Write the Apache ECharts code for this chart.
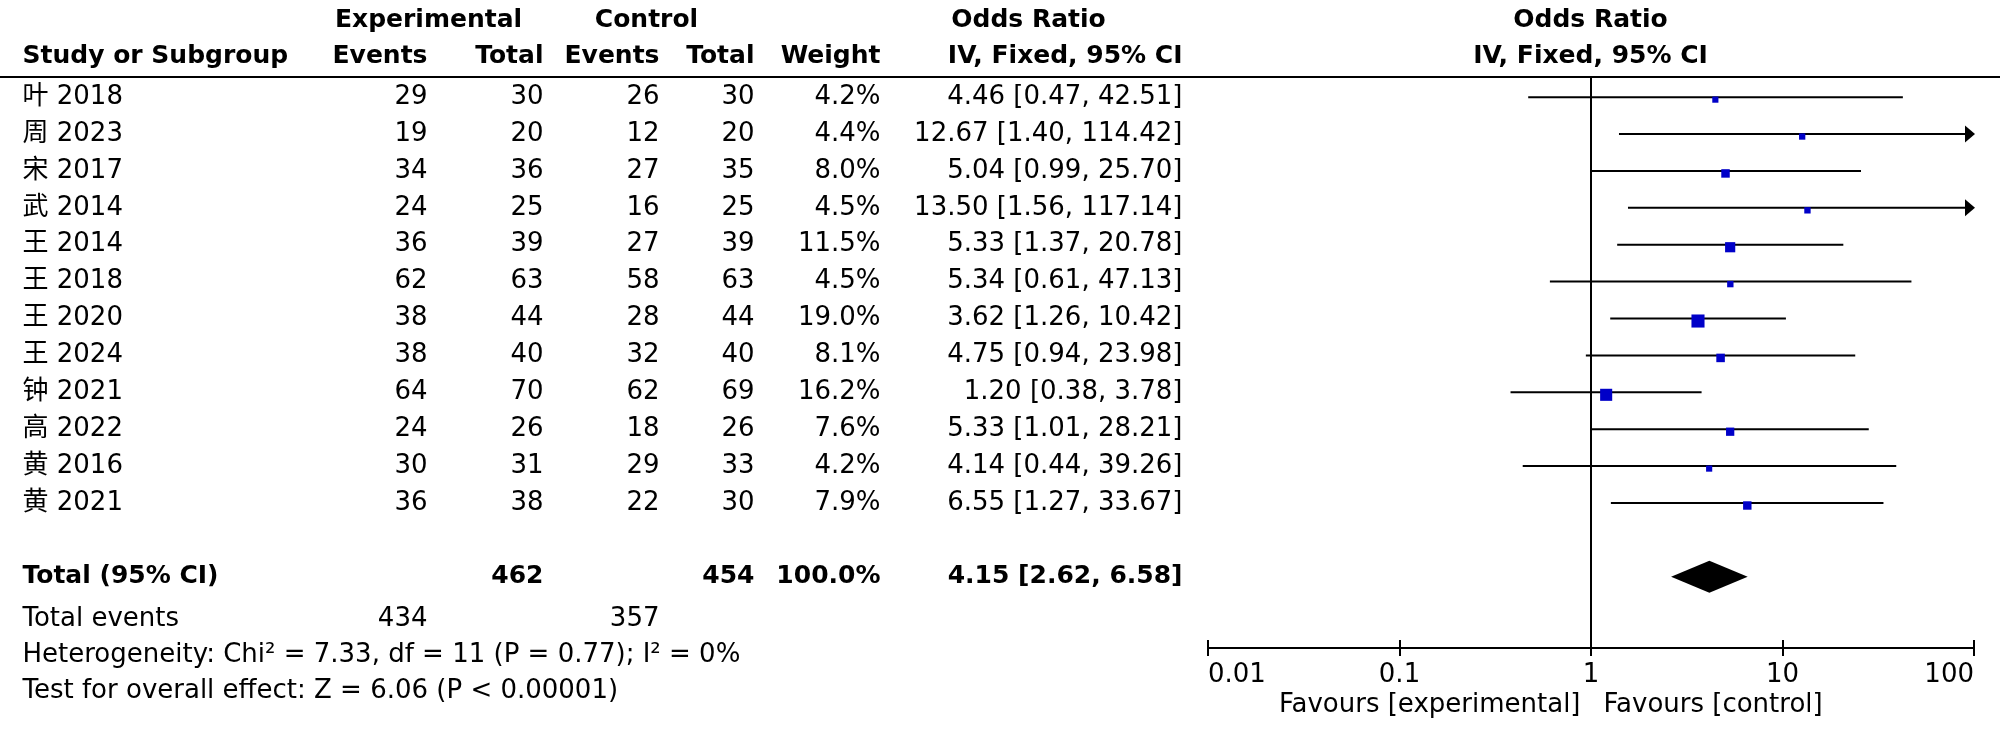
<!DOCTYPE html>
<html><head><meta charset="utf-8">
<script src="https://cdn.jsdelivr.net/npm/echarts@6/dist/echarts.min.js"></script>
<style>html,body{margin:0;padding:0;background:#fff}#c{width:2000px;height:741px}</style>
</head><body><div id="c"></div>
<script>
// ---------------- data ----------------
const studies = ['叶 2018','周 2023','宋 2017','武 2014','王 2014','王 2018','王 2020','王 2024','钟 2021','高 2022','黄 2016','黄 2021'];
const expEvents = [29,19,34,24,36,62,38,38,64,24,30,36];
const expTotal = [30,20,36,25,39,63,44,40,70,26,31,38];
const ctrlEvents = [26,12,27,16,27,58,28,32,62,18,29,22];
const ctrlTotal = [30,20,35,25,39,63,44,40,69,26,33,30];
const weights = [4.2,4.4,8.0,4.5,11.5,4.5,19.0,8.1,16.2,7.6,4.2,7.9];
const orValues = [4.46,12.67,5.04,13.50,5.33,5.34,3.62,4.75,1.20,5.33,4.14,6.55];
const ciLow = [0.47,1.40,0.99,1.56,1.37,0.61,1.26,0.94,0.38,1.01,0.44,1.27];
const ciHigh = [42.51,114.42,25.70,117.14,20.78,47.13,10.42,23.98,3.78,28.21,39.26,33.67];
const totalExp = 462, totalCtrl = 454, totalWeight = 100.0;
const pooledOR = 4.15, pooledLow = 2.62, pooledHigh = 6.58;
const totalEventsExp = 434, totalEventsCtrl = 357;
const heterogeneityText = 'Heterogeneity: Chi² = 7.33, df = 11 (P = 0.77); I² = 0%';
const overallText = 'Test for overall effect: Z = 6.06 (P < 0.00001)';
const axisMin = 0.01, axisMax = 100;
const favourLeft = 'Favours [experimental]', favourRight = 'Favours [control]';

// ---------------- layout ----------------
const FONT = '"DejaVu Sans", "Noto Sans CJK SC", sans-serif';
const FS = 26, FSB = 25;
const col = {name:22, expEv:427, expTot:543, ctrlEv:659, ctrlTot:754, weight:880, ci:1182, orHead:1028, expHead:428, ctrlHead:646, plotC:1590, favL:1580, favR:1603};
const rowY = {head1:-2.09, head2:-1.1, rule:-0.55, total:13, events:14.15, het:15.13, test:16.1, fav:16.47};

const fmt2 = v => v.toFixed(2);
const ciText = (o,l,h) => fmt2(o) + ' [' + fmt2(l) + ', ' + fmt2(h) + ']';

const texts = [];
function T(x, y, text, align, bold) {
  texts.push({value:[x, y], label:{show:true, formatter:text, align:align, color:'#000', opacity:1,
    textBorderWidth:0, fontFamily:FONT, fontWeight: bold ? 'bold' : 'normal', fontSize: bold ? FSB : FS}});
}
// headers
T(col.expHead, rowY.head1, 'Experimental', 'center', true);
T(col.ctrlHead, rowY.head1, 'Control', 'center', true);
T(col.orHead, rowY.head1, 'Odds Ratio', 'center', true);
T(col.plotC, rowY.head1, 'Odds Ratio', 'center', true);
T(col.name, rowY.head2, 'Study or Subgroup', 'left', true);
T(col.expEv, rowY.head2, 'Events', 'right', true);
T(col.expTot, rowY.head2, 'Total', 'right', true);
T(col.ctrlEv, rowY.head2, 'Events', 'right', true);
T(col.ctrlTot, rowY.head2, 'Total', 'right', true);
T(col.weight, rowY.head2, 'Weight', 'right', true);
T(col.ci, rowY.head2, 'IV, Fixed, 95% CI', 'right', true);
T(col.plotC, rowY.head2, 'IV, Fixed, 95% CI', 'center', true);
// study rows
studies.forEach((s, i) => {
  T(col.name, i, s, 'left');
  T(col.expEv, i, String(expEvents[i]), 'right');
  T(col.expTot, i, String(expTotal[i]), 'right');
  T(col.ctrlEv, i, String(ctrlEvents[i]), 'right');
  T(col.ctrlTot, i, String(ctrlTotal[i]), 'right');
  T(col.weight, i, weights[i].toFixed(1) + '%', 'right');
  T(col.ci, i, ciText(orValues[i], ciLow[i], ciHigh[i]), 'right');
});
// totals
T(col.name, rowY.total, 'Total (95% CI)', 'left', true);
T(col.expTot, rowY.total, String(totalExp), 'right', true);
T(col.ctrlTot, rowY.total, String(totalCtrl), 'right', true);
T(col.weight, rowY.total, totalWeight.toFixed(1) + '%', 'right', true);
T(col.ci, rowY.total, ciText(pooledOR, pooledLow, pooledHigh), 'right', true);
T(col.name, rowY.events, 'Total events', 'left');
T(col.expEv, rowY.events, String(totalEventsExp), 'right');
T(col.ctrlEv, rowY.events, String(totalEventsCtrl), 'right');
T(col.name, rowY.het, heterogeneityText, 'left');
T(col.name, rowY.test, overallText, 'left');
T(col.favL, rowY.fav, favourLeft, 'right');
T(col.favR, rowY.fav, favourRight, 'left');

const chart = echarts.init(document.getElementById('c'), null, {renderer:'canvas'});
const plotGrid = {left:1208, right:26, top:76, bottom:93};
const logAxisBase = {
  type:'log', logBase:10, min:axisMin, max:axisMax, position:'bottom',
  splitLine:{show:false}, minorTick:{show:false}
};
chart.setOption({
  animation:false,
  backgroundColor:'#fff',
  grid:[
    Object.assign({}, plotGrid),
    {left:0, right:0, top:0, bottom:0},
    Object.assign({}, plotGrid)
  ],
  xAxis:[
    Object.assign({gridIndex:0}, logAxisBase, {
      axisLine:{show:true, onZero:false, lineStyle:{color:'#000', width:2}},
      axisTick:{show:true, inside:false, length:8, lineStyle:{color:'#000', width:2}},
      axisLabel:{show:true, color:'#000', fontFamily:FONT, fontSize:FS, margin:14, alignMinLabel:'left', alignMaxLabel:'right'}
    }),
    {gridIndex:1, type:'value', min:0, max:2000, show:false},
    Object.assign({gridIndex:2}, logAxisBase, {
      axisLine:{show:false, onZero:false},
      axisTick:{show:true, inside:true, length:8, lineStyle:{color:'#000', width:2}},
      axisLabel:{show:false}
    })
  ],
  yAxis:[
    {gridIndex:0, type:'value', inverse:true, min:-0.573, max:14.93, show:false},
    {gridIndex:1, type:'value', inverse:true, min:-2.6325, max:17.449, show:false},
    {gridIndex:2, type:'value', inverse:true, min:-0.573, max:14.93, show:false}
  ],
  series:[
    {
      type:'scatter', xAxisIndex:1, yAxisIndex:1, clip:false, silent:true,
      symbol:'rect', symbolSize:1, itemStyle:{color:'#fff', opacity:1},
      label:{show:true, position:'right', distance:0, color:'#000', fontFamily:FONT, fontSize:FS, verticalAlign:'middle'},
      data:texts,
      markLine:{silent:true, symbol:['none','none'], label:{show:false},
        lineStyle:{color:'#000', width:2, type:'solid'}, data:[{yAxis:rowY.rule}]}
    },
    {
      type:'custom', xAxisIndex:0, yAxisIndex:0, silent:true,
      data: studies.map((s, i) => [ciLow[i], ciHigh[i], i]),
      encode:{x:[0,1], y:2},
      renderItem(params, api) {
        const lo = api.value(0), hi = api.value(1), row = api.value(2);
        const p1 = api.coord([Math.max(lo, axisMin), row]);
        const p2 = api.coord([Math.min(hi, axisMax), row]);
        const children = [];
        if (hi > axisMax) {
          children.push({type:'line', shape:{x1:p1[0], y1:p1[1], x2:p2[0]-8, y2:p2[1]}, style:{stroke:'#000', lineWidth:2}});
          children.push({type:'polygon', shape:{points:[[p2[0]+1, p2[1]], [p2[0]-9, p2[1]-8.5], [p2[0]-9, p2[1]+8.5]]}, style:{fill:'#000'}});
        } else {
          children.push({type:'line', shape:{x1:p1[0], y1:p1[1], x2:p2[0], y2:p2[1]}, style:{stroke:'#000', lineWidth:2}});
        }
        return {type:'group', children};
      },
      z:2
    },
    {
      type:'scatter', xAxisIndex:0, yAxisIndex:0, silent:true,
      data: studies.map((s, i) => [orValues[i], i, weights[i]]),
      symbol:'rect',
      symbolSize: v => 3.0 * Math.sqrt(v[2]),
      symbolOffset:[0, 2.5],
      itemStyle:{color:'#0000c8', opacity:1},
      z:3,
      markLine:{silent:true, symbol:['none','none'], label:{show:false},
        lineStyle:{color:'#000', width:2, type:'solid'}, data:[{xAxis:1}]}
    },
    {
      type:'custom', xAxisIndex:0, yAxisIndex:0, silent:true,
      data:[[pooledLow, pooledOR, pooledHigh, rowY.total]],
      encode:{x:[0,1,2], y:3},
      renderItem(params, api) {
        const row = api.value(3);
        const a = api.coord([api.value(0), row]);
        const m = api.coord([api.value(1), row]);
        const b = api.coord([api.value(2), row]);
        const h = 16;
        return {type:'polygon', shape:{points:[[a[0], a[1]], [m[0], m[1]-h], [b[0], b[1]], [m[0], m[1]+h]]}, style:{fill:'#000'}};
      },
      z:3
    }
  ]
});
</script>
</body></html>
